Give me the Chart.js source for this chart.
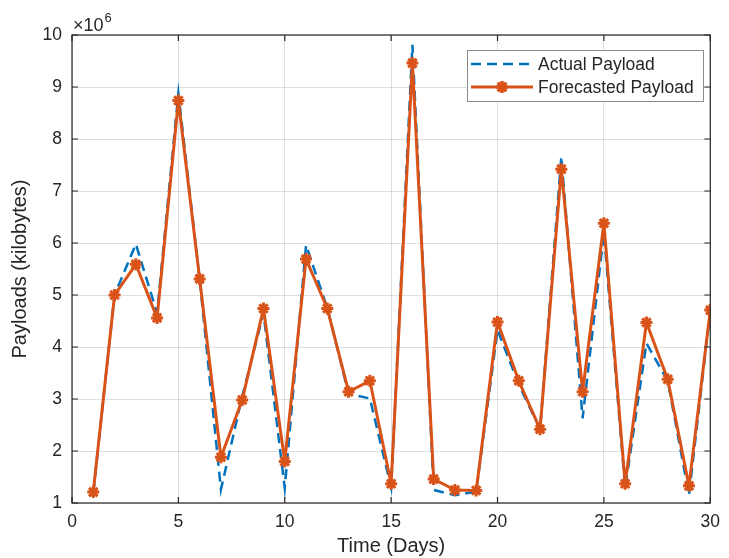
<!DOCTYPE html>
<html>
<head>
<meta charset="utf-8">
<script src="https://cdn.jsdelivr.net/npm/chart.js@4.4.0/dist/chart.umd.min.js"></script>
<style>
  html, body { margin: 0; padding: 0; background: #fff; }
  #wrap { width: 729px; height: 558px; position: relative; }
</style>
</head>
<body>
<div id="wrap"><canvas id="payloadChart"></canvas></div>
<script>
// days 1..30, payloads in units of 10^6 kilobytes
const days = [1, 2, 3, 4, 5, 6, 7, 8, 9, 10, 11, 12, 13, 14, 15,
              16, 17, 18, 19, 20, 21, 22, 23, 24, 25, 26, 27, 28, 29, 30];
const actualPayload = [1.20, 5.00, 5.98, 4.65, 8.88, 5.30, 1.26, 3.05, 4.65, 1.29,
                       5.96, 4.75, 3.10, 3.01, 1.30, 9.81, 1.25, 1.15, 1.22, 4.33,
                       3.28, 2.42, 7.66, 2.63, 6.20, 1.29, 4.07, 3.35, 1.15, 4.70];
const forecastPayload = [1.21, 5.00, 5.59, 4.56, 8.74, 5.31, 1.88, 2.98, 4.74, 1.80,
                         5.69, 4.74, 3.14, 3.35, 1.37, 9.46, 1.46, 1.25, 1.24, 4.48,
                         3.35, 2.42, 7.42, 3.14, 6.38, 1.37, 4.47, 3.38, 1.33, 4.71];
const xTicks = [0, 5, 10, 15, 20, 25, 30];
const yTicks = [1, 2, 3, 4, 5, 6, 7, 8, 9, 10];

const blue = '#0072BD';
const orange = '#D95319';
const axisColor = '#262626';
const font = 'Liberation Sans, Arial, sans-serif';

// frame, inward ticks, exponent label and legend (matlab look)
const matlabDecor = {
    id: 'matlabDecor',
    afterDraw(chart) {
        const ctx = chart.ctx;
        const a = chart.chartArea;
        const xs = chart.scales.x;
        const ys = chart.scales.y;
        ctx.save();
        ctx.strokeStyle = axisColor;
        ctx.lineWidth = 1.2;
        ctx.strokeRect(a.left, a.top, a.right - a.left, a.bottom - a.top);
        ctx.beginPath();
        xTicks.forEach(t => {
            const px = xs.getPixelForValue(t);
            ctx.moveTo(px, a.bottom); ctx.lineTo(px, a.bottom - 6);
            ctx.moveTo(px, a.top); ctx.lineTo(px, a.top + 6);
        });
        yTicks.forEach(t => {
            const py = ys.getPixelForValue(t);
            ctx.moveTo(a.left, py); ctx.lineTo(a.left + 6, py);
            ctx.moveTo(a.right, py); ctx.lineTo(a.right - 6, py);
        });
        ctx.stroke();

        // x10^6
        ctx.fillStyle = axisColor;
        ctx.textBaseline = 'alphabetic';
        ctx.textAlign = 'left';
        ctx.font = '18px ' + font;
        ctx.fillText('\u00d710', a.left + 1, 31);
        const w = ctx.measureText('\u00d710').width;
        ctx.font = '13px ' + font;
        ctx.fillText('6', a.left + 2 + w, 22);

        // legend
        const lx = 467, ly = 50, lw = 236, lh = 51;
        ctx.fillStyle = '#fff';
        ctx.fillRect(lx, ly, lw, lh);
        ctx.strokeStyle = '#8c8c8c';
        ctx.lineWidth = 1;
        ctx.strokeRect(lx + 0.5, ly + 0.5, lw, lh);

        const rows = [
            { label: 'Actual Payload', y: 64, color: blue, dash: [10, 6], lw: 2.5, marker: false },
            { label: 'Forecasted Payload', y: 87, color: orange, dash: [], lw: 3, marker: true }
        ];
        rows.forEach(r => {
            ctx.strokeStyle = r.color;
            ctx.lineWidth = r.lw;
            ctx.setLineDash(r.dash);
            ctx.beginPath();
            ctx.moveTo(471, r.y); ctx.lineTo(533, r.y);
            ctx.stroke();
            ctx.setLineDash([]);
            if (r.marker) {
                Chart.helpers.drawPoint(ctx, { pointStyle: 'star', radius: 6, rotation: 0, borderWidth: 3 }, 502, r.y);
                ctx.strokeStyle = r.color;
                ctx.lineWidth = 3;
                ctx.stroke();
            }
            ctx.fillStyle = axisColor;
            ctx.font = '17.5px ' + font;
            ctx.textBaseline = 'middle';
            ctx.fillText(r.label, 538, r.y + 1);
        });
        ctx.restore();
    }
};

const ctx = document.getElementById('payloadChart').getContext('2d');
new Chart(ctx, {
    type: 'line',
    data: {
        datasets: [
            {
                label: 'Forecasted Payload',
                data: days.map((d, i) => ({ x: d, y: forecastPayload[i] })),
                borderColor: orange,
                backgroundColor: orange,
                borderWidth: 3,
                borderJoinStyle: 'round',
                pointStyle: 'star',
                pointRadius: 6,
                pointBorderWidth: 3,
                pointBorderColor: orange,
                tension: 0,
                fill: false
            },
            {
                label: 'Actual Payload',
                data: days.map((d, i) => ({ x: d, y: actualPayload[i] })),
                borderColor: blue,
                borderWidth: 2.5,
                borderDash: [10, 6],
                pointRadius: 0,
                tension: 0,
                fill: false
            }
        ]
    },
    options: {
        responsive: true,
        maintainAspectRatio: false,
        animation: false,
        layout: { padding: { top: 35, right: 11, left: 0, bottom: 0 } },
        plugins: {
            legend: { display: false },
            tooltip: { enabled: false }
        },
        scales: {
            x: {
                type: 'linear',
                min: 0,
                max: 30,
                afterBuildTicks: s => { s.ticks = xTicks.map(v => ({ value: v })); },
                afterFit: s => { s.height = 55; },
                grid: { color: 'rgba(38,38,38,0.15)', drawTicks: false },
                border: { display: false },
                ticks: { color: axisColor, font: { family: font, size: 17.5 }, padding: 9, maxRotation: 0 },
                title: { display: true, text: 'Time (Days)', color: axisColor,
                         font: { family: font, size: 20 }, padding: { top: 0, bottom: 0 } }
            },
            y: {
                min: 1,
                max: 10,
                afterBuildTicks: s => { s.ticks = yTicks.map(v => ({ value: v })); },
                afterFit: s => { s.width = 72; },
                grid: { color: 'rgba(38,38,38,0.15)', drawTicks: false },
                border: { display: false },
                ticks: { color: axisColor, font: { family: font, size: 17.5 }, padding: 10 },
                title: { display: true, text: 'Payloads (kilobytes)', color: axisColor,
                         font: { family: font, size: 20 }, padding: { top: 8, bottom: 0 } }
            }
        }
    },
    plugins: [matlabDecor]
});
</script>
</body>
</html>
